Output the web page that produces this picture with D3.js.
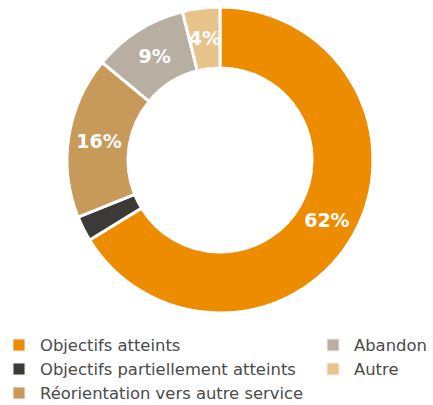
<!DOCTYPE html>
<html>
<head>
<meta charset="utf-8">
<script src="https://cdn.jsdelivr.net/npm/d3@7"></script>
<style>
  body { margin: 0; background: #fff; }
  svg text { font-family: "DejaVu Sans", sans-serif; }
</style>
</head>
<body>
<div class="chart"></div>
<script>
const categories = ['Objectifs atteints', 'Objectifs partiellement atteints', 'Réorientation vers autre service', 'Abandon', 'Autre']
const values = [62, 2.5, 16, 9.4, 3.7]
const colors = ['#ee8c00', '#3b3a36', '#c89a5a', '#b8afa2', '#e8c48c']

let width = 433
let height = 405
let cx = 220
let cy = 160
let outerR = 153
let innerR = 92

let svg = d3.select('.chart').append('svg')
	.attr('width', width)
	.attr('height', height)

let data = categories.map((c, i) => ({ cat: c, value: values[i], color: colors[i] }))

let pie = d3.pie()
	.value(d => d.value)
	.sort(null)

let arc = d3.arc()
	.innerRadius(innerR)
	.outerRadius(outerR)

let g = svg.append('g')
	.attr('transform', 'translate(' + cx + ',' + cy + ')')

let arcs = pie(data)

g.selectAll('path.slice')
	.data(arcs)
	.enter()
	.append('path')
		.attr('class', 'slice')
		.attr('d', arc)
		.attr('fill', d => d.data.color)
		.attr('stroke', '#fff')
		.attr('stroke-width', 3)

g.selectAll('text.pct')
	.data(arcs.filter(d => d.data.value >= 3.5))
	.enter()
	.append('text')
		.attr('class', 'pct')
		.attr('x', d => arc.centroid(d)[0])
		.attr('y', d => arc.centroid(d)[1])
		.attr('dy', '0.36em')
		.attr('text-anchor', 'middle')
		.attr('fill', '#fff')
		.attr('font-weight', 'bold')
		.attr('font-size', 19)
		.text(d => Math.round(d.data.value) + '%')

// legend, two columns
let legendPos = [[19, 345], [19, 369], [19, 393], [333, 345], [333, 369]]

let legend = svg.selectAll('g.legend')
	.data(data)
	.enter()
	.append('g')
		.attr('class', 'legend')
		.attr('transform', (d, i) => 'translate(' + legendPos[i][0] + ',' + legendPos[i][1] + ')')

legend.append('rect')
	.attr('x', -6)
	.attr('y', -6)
	.attr('width', 12)
	.attr('height', 12)
	.attr('fill', d => d.color)
	.attr('stroke', '#f3f0ec')
	.attr('stroke-width', 1)

legend.append('text')
	.attr('x', 21)
	.attr('dy', '0.36em')
	.attr('font-size', 16.4)
	.attr('fill', '#4a4a4a')
	.text(d => d.cat)
</script>
</body>
</html>
